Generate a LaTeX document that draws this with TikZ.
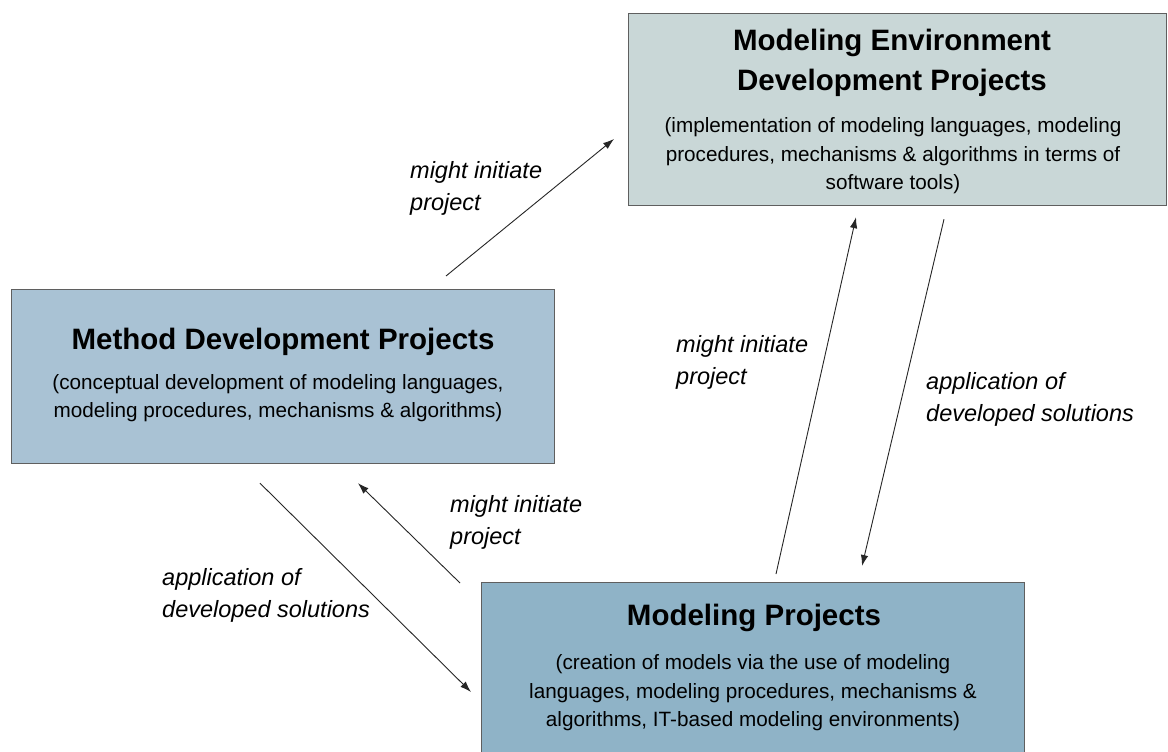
\documentclass[tikz,border=0pt]{standalone}
\usepackage{fontspec}
\setmainfont{Liberation Sans}
\usetikzlibrary{calc,arrows.meta}
\definecolor{envfill}{RGB}{201,215,215}
\definecolor{methfill}{RGB}{169,194,212}
\definecolor{modfill}{RGB}{143,179,199}
\definecolor{boxline}{RGB}{95,95,95}
\begin{document}
\begin{tikzpicture}[x=1pt,y=-1pt,
  box/.style={draw=boxline, line width=1.2pt, inner sep=0pt, anchor=north west},
  ttl/.style={font=\fontsize{29.5}{40}\selectfont\bfseries, align=center, inner sep=0pt},
  bdy/.style={font=\fontsize{20.7}{28.5}\selectfont, align=center, inner sep=0pt},
  lbl/.style={font=\fontsize{23.5}{32}\selectfont\itshape, align=left, inner sep=0pt, anchor=west},
  arr/.style={-{Latex[length=11pt,width=7.5pt]}, line width=0.9pt, draw=black!85}]
\clip (0,0) rectangle (1168,752);
\fill[white] (0,0) rectangle (1168,752);

% project boxes
\node[box, fill=envfill, minimum width=538pt, minimum height=192pt] (env) at (628,13) {};
\node[box, fill=methfill, minimum width=543pt, minimum height=174pt] (meth) at (11,289) {};
\node[box, fill=modfill, minimum width=543pt, minimum height=190pt] (mod) at (481,582) {};

% box texts
\node[ttl] (envT) at (892,63) {Modeling Environment\\Development Projects};
\node[bdy] (envB) at (893,156) {(implementation of modeling languages, modeling\\procedures, mechanisms \& algorithms in terms of\\software tools)};
\node[ttl] (methT) at (283,342) {Method Development Projects};
\node[bdy] (methB) at (278,398) {(conceptual development of modeling languages,\\modeling procedures, mechanisms \& algorithms)};
\node[ttl] (modT) at (754,618) {Modeling Projects};
\node[bdy] (modB) at (753,693) {(creation of models via the use of modeling\\languages, modeling procedures, mechanisms \&\\algorithms, IT-based modeling environments)};

% connector end points, just off the box borders
\coordinate (a1s) at ($(meth.north west)+(435,-13)$);
\coordinate (a1e) at ($(env.north west)+(-14,126)$);
\coordinate (a2s) at ($(mod.north west)+(295,-8)$);
\coordinate (a2e) at ($(env.south west)+(228,11)$);
\coordinate (a3s) at ($(env.south west)+(316,13)$);
\coordinate (a3e) at ($(mod.north west)+(381,-16)$);
\coordinate (a4s) at ($(mod.north west)+(-21,1)$);
\coordinate (a4e) at ($(meth.south west)+(347,19)$);
\coordinate (a5s) at ($(meth.south west)+(249,19)$);
\coordinate (a5e) at ($(mod.north west)+(-10,110)$);

\draw[arr] (a1s) -- (a1e);
\draw[arr] (a2s) -- (a2e);
\draw[arr] (a3s) -- (a3e);
\draw[arr] (a4s) -- (a4e);
\draw[arr] (a5s) -- (a5e);

% connector labels
\node[lbl] (l1) at (410,188) {might initiate\\project};
\node[lbl] (l2) at (676,362) {might initiate\\project};
\node[lbl] (l3) at (926,399) {application of\\developed solutions};
\node[lbl] (l4) at (450,522) {might initiate\\project};
\node[lbl] (l5) at (162,595) {application of\\developed solutions};
\end{tikzpicture}
\end{document}
